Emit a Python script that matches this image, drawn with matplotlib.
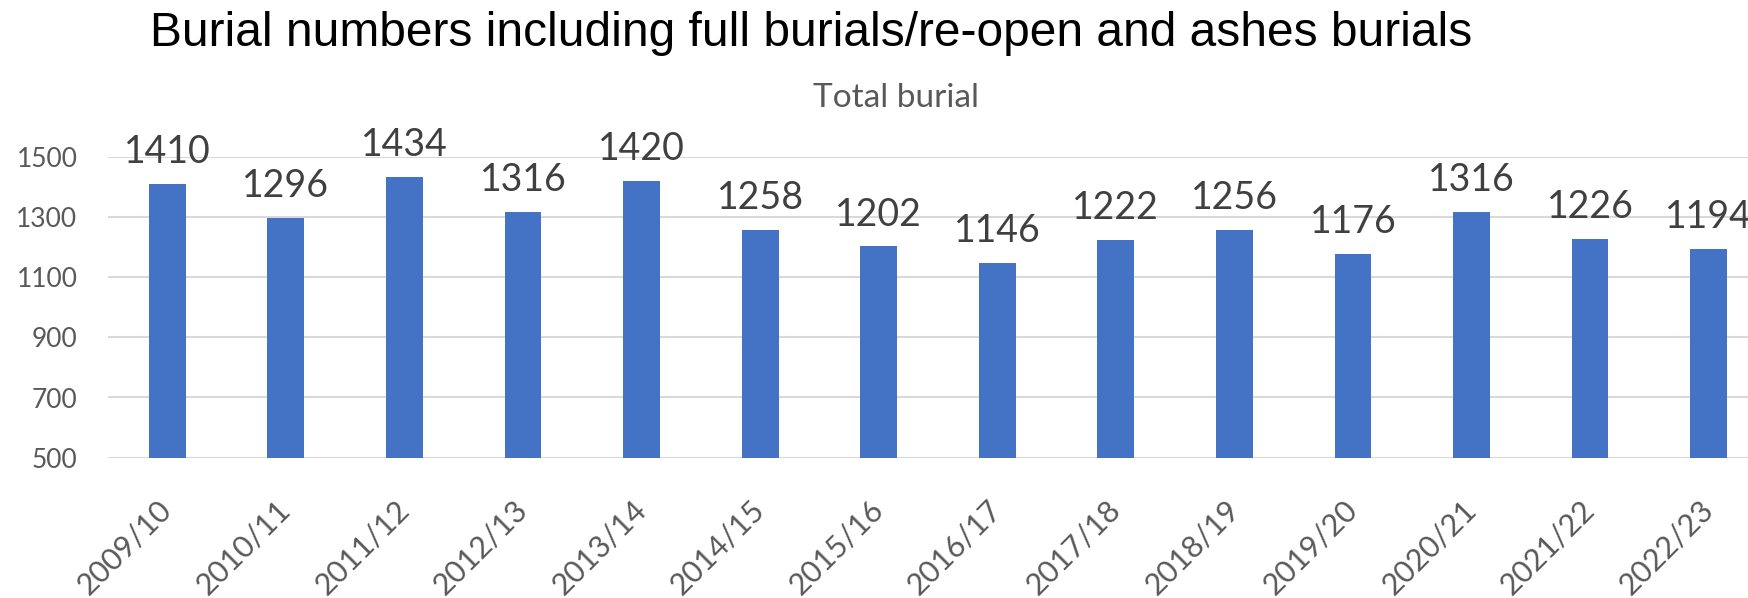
import numpy as np
import matplotlib
matplotlib.use("Agg")
import matplotlib.pyplot as plt

years = ["2009/10", "2010/11", "2011/12", "2012/13", "2013/14", "2014/15", "2015/16",
         "2016/17", "2017/18", "2018/19", "2019/20", "2020/21", "2021/22", "2022/23"]
totals = [1410, 1296, 1434, 1316, 1420, 1258, 1202, 1146, 1222, 1256, 1176, 1316, 1226, 1194]
y_ticks = [500, 700, 900, 1100, 1300, 1500]

bar_color = "#4472C4"
grid_color = "#D9D9D9"
label_font = "Lato"

fig = plt.figure(figsize=(17.49, 5.98), dpi=100)
ax = fig.add_axes([108 / 1749, 1 - 457.7 / 598, 1 - 108 / 1749, (457.7 - 156.7) / 598])

x = np.arange(len(years))
ax.bar(x, totals, width=0.31, color=bar_color, zorder=3)

ax.set_xlim(-0.5, 13.34)
ax.set_ylim(500, 1500)
ax.set_yticks(y_ticks)
ax.grid(axis="y", color=grid_color, linewidth=1.5, zorder=0)
for s in ax.spines.values():
    s.set_visible(False)
ax.tick_params(axis="both", length=0, colors="#595959")
ax.tick_params(axis="y", pad=22)
ax.tick_params(axis="x", pad=34)

ax.set_xticks(x)
ax.set_xticklabels(years, rotation=45, ha="right", va="center", rotation_mode="anchor",
                   fontsize=22, family=label_font)
for t in ax.get_yticklabels():
    t.set_fontsize(19)
    t.set_family(label_font)

for xi, v in zip(x, totals):
    ax.annotate(str(v), (xi, v), xytext=(0, 10), textcoords="offset points",
                ha="center", va="bottom", fontsize=27, family=label_font,
                color="#404040", annotation_clip=False)

fig.text(150 / 1749, 1 - 34 / 598, "Burial numbers including full burials/re-open and ashes burials",
         ha="left", va="center", fontsize=34.5, family="Liberation Sans", color="black")
fig.text(896 / 1749, 1 - 98 / 598, "Total burial", ha="center", va="center",
         fontsize=24, family=label_font, color="#595959")

fig.savefig("out.png", dpi=100)
